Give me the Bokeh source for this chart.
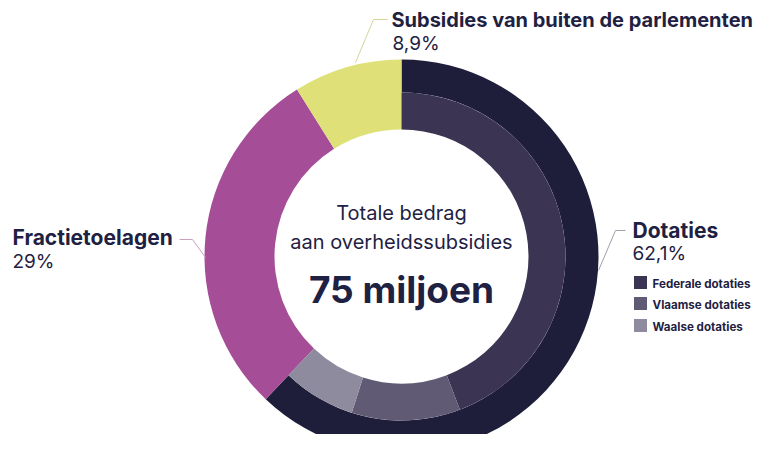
import numpy as np
from bokeh.plotting import figure
from bokeh.models import Range1d
from bokeh.core.properties import value
from bokeh.embed import file_html
from bokeh.resources import INLINE

# ---- data ----
categories = ["Dotaties", "Fractietoelagen", "Subsidies van buiten de parlementen"]
shares = [62.1, 29.0, 8.9]
share_labels = ["62,1%", "29%", "8,9%"]
sub_categories = ["Federale dotaties", "Vlaamse dotaties", "Waalse dotaties"]
sub_shares = [44.2, 10.7, 7.2]
center_lines = ["Totale bedrag", "aan overheidssubsidies"]
total_label = "75 miljoen"

# ---- style ----
W, H = 753, 434
NAVY = "#1e1e3b"
TEXT = "#1f2142"
cat_colors = [NAVY, "#a54e97", "#dfe178"]
sub_colors = ["#3b3553", "#605a74", "#8f8b9e"]
FONT = "Inter"

def Y(sy):  # picture y (from top) -> data y
    return H - sy

cx, cy = 401, Y(256)
R_OUT, R_MID, R_IN = 197, 164, 127

p = figure(width=W, height=H, output_backend="svg", toolbar_location=None,
           x_range=Range1d(0, W), y_range=Range1d(0, H),
           min_border=0)
p.axis.visible = False
p.grid.visible = False
p.outline_line_color = None
p.background_fill_color = "white"
p.border_fill_color = "white"

def angles(vals):
    v = np.array(vals, dtype=float)
    cum = np.concatenate([[0], np.cumsum(v)])
    start = np.pi / 2 - cum[:-1] / 100 * 2 * np.pi
    end = np.pi / 2 - cum[1:] / 100 * 2 * np.pi
    return start, end

s, e = angles(shares)
inner_r = [R_MID, R_IN, R_IN]
for i in range(len(categories)):
    p.annular_wedge(x=cx, y=cy, inner_radius=inner_r[i], outer_radius=R_OUT,
                    start_angle=s[i], end_angle=e[i], direction="clock",
                    fill_color=cat_colors[i], line_color=None)

ss, se = angles(sub_shares)
for i in range(len(sub_categories)):
    p.annular_wedge(x=cx, y=cy, inner_radius=R_IN, outer_radius=R_MID,
                    start_angle=ss[i], end_angle=se[i], direction="clock",
                    fill_color=sub_colors[i], line_color=None)

# leader lines
p.line([387, 373, 355], [Y(19), Y(19), Y(62)], line_color="#d3d59a", line_width=1)
p.line([179, 192, 205], [Y(239), Y(239), Y(257)], line_color="#c9a0c2", line_width=1)
p.line([625, 615, 598], [Y(230), Y(230), Y(270)], line_color="#a0a0ac", line_width=1)

def txt(x, y, t, size, bold=False, align="left", baseline="alphabetic", color=TEXT):
    if baseline == "alphabetic":
        y = y - 0.36 * size
    p.text(x=[x], y=[Y(y)], text=[t], text_font=value(FONT),
           text_font_size=f"{size}px", text_font_style="bold" if bold else "normal",
           text_align=align, text_baseline=baseline, text_color=color)

# category labels
txt(391, 27, categories[2], 20, bold=True)
txt(392, 50, share_labels[2], 19)
txt(12, 245, categories[1], 21, bold=True)
txt(12, 268, share_labels[1], 19)
txt(632, 238, categories[0], 21, bold=True)
txt(632, 260, share_labels[0], 19)

# legend
leg_y = [282, 303, 325]
for i, name in enumerate(sub_categories):
    p.rect(x=[640], y=[Y(leg_y[i])], width=13, height=13,
           fill_color=sub_colors[i], line_color=None)
    txt(652, leg_y[i] + 1, name, 11.6, bold=True, baseline="middle")

# center text
txt(401, 220, center_lines[0], 20, align="center")
txt(401, 249, center_lines[1], 20, align="center")
txt(401, 302, total_label, 37, bold=True, align="center")

open("out.html", "w").write(file_html(p, INLINE))
